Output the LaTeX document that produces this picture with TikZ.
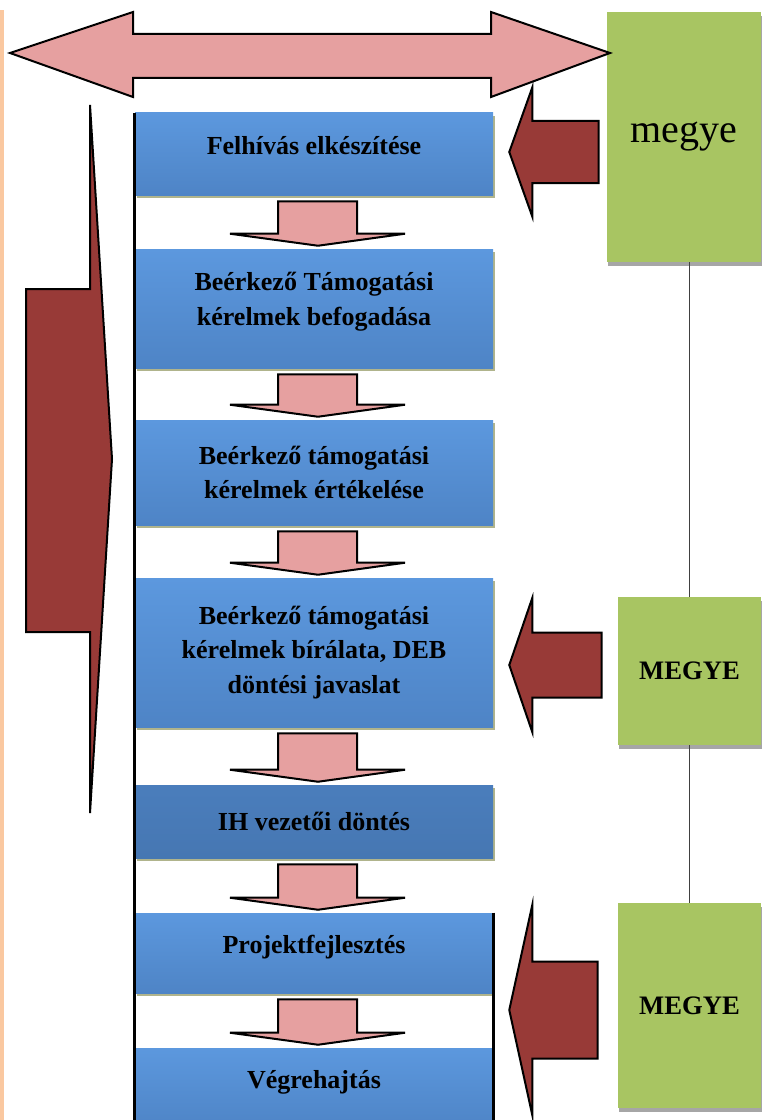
\documentclass[tikz,border=0pt]{standalone}
\usepackage{fontspec}
\setmainfont{Liberation Serif}
\usetikzlibrary{calc,shadows}
\definecolor{boxtop}{RGB}{92,152,222}
\definecolor{boxbot}{RGB}{78,132,198}
\definecolor{boxshade}{RGB}{176,180,140}
\definecolor{megyegreen}{RGB}{168,197,98}
\definecolor{darkarrow}{RGB}{152,58,55}
\definecolor{pinkarrow}{RGB}{230,160,160}
\definecolor{peach}{RGB}{250,200,160}
\tikzstyle{stepbox}=[rectangle, top color=boxtop, bottom color=boxbot, minimum width=268.5pt, inner sep=0pt, align=center,
  font=\bfseries\fontsize{19.5}{26}\selectfont,
  drop shadow={shadow xshift=1.5pt, shadow yshift=-2.5pt, fill=boxshade, opacity=1}]
\tikzstyle{megyebox}=[rectangle, fill=megyegreen, inner sep=0pt,
  drop shadow={shadow xshift=0.75pt, shadow yshift=-3pt, fill=black!35, opacity=1}]
\tikzstyle{flow}=[fill=pinkarrow, draw=black, line width=1.5pt]
\tikzstyle{side}=[fill=darkarrow, draw=black, line width=1.5pt]
\newcommand{\stepbox}{\node[stepbox]}
% pink arrow from one step down to the next
\newcommand{\flowarrow}[2]{%
  \draw[flow] ($(#1.south)+(-36,6)$) -- ($(#1.south)+(43,6)$)
    -- ($(#2.north)+(43,-15)$) -- ($(#2.north)+(91,-15)$)
    -- ($(#2.north)+(4,-3)$) -- ($(#2.north)+(-84,-15)$)
    -- ($(#2.north)+(-36,-15)$) -- cycle;}
% red arrow from a megye box to a step: from, to, tip y, shaft half, head half, gap
\newcommand{\sidearrow}[6]{%
  \coordinate (t) at ($(#2.east |- 0,#3)+(16,0)$);
  \coordinate (e) at ($(#1.west |- 0,#3)+(-#6,0)$);
  \draw[side] (t) -- ($(t)+(23,-#5)$) -- ($(t)+(23,-#4)$) -- ($(e)+(0,-#4)$)
    -- ($(e)+(0,#4)$) -- ($(t)+(23,#4)$) -- ($(t)+(23,#5)$) -- cycle;}

\begin{document}
\begin{tikzpicture}[x=0.75pt, y=-0.75pt]
\useasboundingbox (0,0) rectangle (761,1120);
\fill[white] (0,0) rectangle (761,1120);
\fill[peach] (0,10) rectangle (4,1120);

\stepbox (b1) at (314,154)    [minimum height=61.5pt, text depth=13.5pt] {Felhívás elkészítése};
\stepbox (b2) at (314,308.5)  [minimum height=89.25pt, text depth=15pt] {Beérkező Támogatási\\kérelmek befogadása};
\stepbox (b3) at (314,472.5)  [minimum height=78.75pt] {Beérkező támogatási\\kérelmek értékelése};
\stepbox (b4) at (314,652.5)  [minimum height=111.75pt] {Beérkező támogatási\\kérelmek bírálata, DEB\\döntési javaslat};
\stepbox (b5) at (314,821.5)  [minimum height=54.75pt, top color=boxbot!95!black, bottom color=boxbot!90!black] {IH vezetői döntés};
\stepbox (b6) at (314,953)    [minimum height=60pt, text depth=13.3pt] {Projektfejlesztés};
\stepbox (b7) at (314,1088)   [minimum height=60pt, text depth=13.3pt] {Végrehajtás};

\node[megyebox, minimum width=115.5pt, minimum height=187.5pt, font=\fontsize{30}{36}\selectfont]
  (g1) at (684,137) {megye};
\node[megyebox, minimum width=107.25pt, minimum height=111pt, font=\bfseries\fontsize{20}{24}\selectfont]
  (g2) at (689.5,671) {MEGYE};
\node[megyebox, minimum width=107.25pt, minimum height=153.75pt, font=\bfseries\fontsize{20}{24}\selectfont]
  (g3) at (689.5,1005.5) {MEGYE};

\draw[black!75, line width=1pt] (g2.north) -- (g2.north |- g1.south);
\draw[black!75, line width=1pt] (g3.north) -- (g3.north |- g2.south);

\draw[line width=2.25pt] (b1.north west) -- (b1.north west |- b7.south);
\draw[line width=2.25pt] (b6.north east) -- (b6.north east |- b7.south);

\flowarrow{b1}{b2}
\flowarrow{b2}{b3}
\flowarrow{b3}{b4}
\flowarrow{b4}{b5}
\flowarrow{b5}{b6}
\flowarrow{b6}{b7}

\sidearrow{g1}{b1}{152}{31}{64.5}{8}
\sidearrow{g2}{b4}{665}{32.5}{67}{16}
\sidearrow{g3}{b6}{1010}{48.5}{105}{20}

% big arrows
\draw[flow] (10,53) -- (133,12) -- (133,34) -- (491,34) -- (491,12) -- (610,53)
  -- (491,97) -- (491,78) -- (133,78) -- (133,97) -- cycle;
\draw[side] (26,289) -- (90,289) -- (90,105) -- (112,459) -- (90,813)
  -- (90,632) -- (26,632) -- cycle;
\end{tikzpicture}
\end{document}
